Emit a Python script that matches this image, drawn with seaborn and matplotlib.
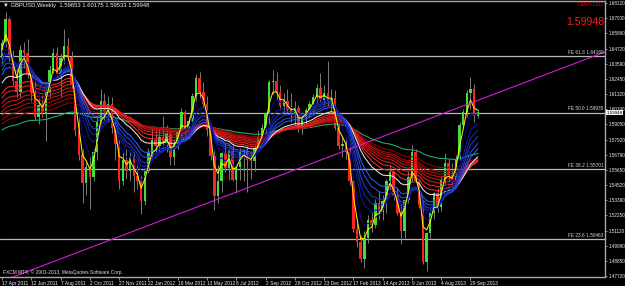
import numpy as np
import pandas as pd
import matplotlib
matplotlib.use("Agg")
import matplotlib.pyplot as plt
import seaborn as sns

# ---------------- data ----------------
symbol = "GBPUSD"
timeframe = "Weekly"
header_values = ["1.59653", "1.60175", "1.59533", "1.59948"]
last_price = "1.59948"

date_labels = ["17 Apr 2011", "12 Jun 2011", "7 Aug 2011", "2 Oct 2011", "27 Nov 2011",
               "22 Jan 2012", "18 Mar 2012", "13 May 2012", "8 Jul 2012", "2 Sep 2012",
               "28 Oct 2012", "23 Dec 2012", "17 Feb 2013", "14 Apr 2013", "9 Jun 2013",
               "4 Aug 2013", "29 Sep 2013"]
date_label_weeks = [0, 8, 16, 24, 32, 40, 48, 56, 64, 72, 80, 88, 96, 104, 112, 120, 128]

opens = [1.6400, 1.6510, 1.6690, 1.6420, 1.6230, 1.6150, 1.6460, 1.6440, 1.6290, 1.6140,
         1.5960, 1.6050, 1.5990, 1.6150, 1.6310, 1.6440, 1.6280, 1.6400, 1.6490, 1.6410,
         1.6200, 1.5860, 1.5680, 1.5470, 1.5590, 1.5510, 1.5700, 1.5930, 1.6080, 1.6000,
         1.6060, 1.5880, 1.5760, 1.5480, 1.5640, 1.5560, 1.5660, 1.5520, 1.5480, 1.5330,
         1.5560, 1.5690, 1.5790, 1.5740, 1.5810, 1.5770, 1.5830, 1.5660, 1.5760, 1.5850,
         1.6000, 1.5870, 1.5930, 1.6120, 1.6250, 1.6150, 1.6060, 1.5860, 1.5670, 1.5370,
         1.5480, 1.5690, 1.5580, 1.5710, 1.5490, 1.5590, 1.5700, 1.5710, 1.5640, 1.5630,
         1.5730, 1.5810, 1.5880, 1.5990, 1.6220, 1.6230, 1.6150, 1.6040, 1.6080, 1.6010,
         1.5980, 1.6030, 1.5880, 1.5960, 1.6010, 1.6060, 1.6110, 1.6180, 1.6090, 1.6140,
         1.6080, 1.6100, 1.5880, 1.5740, 1.5760, 1.5700, 1.5480, 1.5120, 1.5030, 1.4900,
         1.5060, 1.5190, 1.5150, 1.5320, 1.5250, 1.5330, 1.5480, 1.5550, 1.5370, 1.5240,
         1.5110, 1.5340, 1.5510, 1.5700, 1.5480, 1.5300, 1.4880, 1.5090, 1.5240, 1.5390,
         1.5290, 1.5490, 1.5620, 1.5530, 1.5490, 1.5650, 1.5900, 1.6000, 1.6140, 1.6170,
         1.59653]
highs = [1.6545, 1.6747, 1.6710, 1.6460, 1.6340, 1.6500, 1.6520, 1.6546, 1.6320, 1.6230,
         1.6100, 1.6125, 1.6180, 1.6350, 1.6475, 1.6480, 1.6440, 1.6618, 1.6550, 1.6450,
         1.6245, 1.5960, 1.5720, 1.5640, 1.5660, 1.5720, 1.5960, 1.6166, 1.6140, 1.6120,
         1.6110, 1.5920, 1.5790, 1.5700, 1.5720, 1.5700, 1.5700, 1.5600, 1.5520, 1.5580,
         1.5730, 1.5880, 1.5860, 1.5880, 1.5970, 1.5900, 1.5880, 1.5790, 1.5880, 1.6030,
         1.6010, 1.5960, 1.6140, 1.6280, 1.6300, 1.6220, 1.6120, 1.5900, 1.5720, 1.5600,
         1.5700, 1.5760, 1.5720, 1.5750, 1.5610, 1.5730, 1.5720, 1.5740, 1.5700, 1.5750,
         1.5860, 1.5910, 1.6000, 1.6240, 1.6310, 1.6300, 1.6200, 1.6140, 1.6170, 1.6140,
         1.6080, 1.6050, 1.5990, 1.6030, 1.6080, 1.6130, 1.6210, 1.6290, 1.6200, 1.6380,
         1.6170, 1.6160, 1.5920, 1.5820, 1.5800, 1.5740, 1.5520, 1.5170, 1.5080, 1.5110,
         1.5230, 1.5250, 1.5350, 1.5410, 1.5380, 1.5500, 1.5600, 1.5560, 1.5440, 1.5310,
         1.5260, 1.5560, 1.5750, 1.5720, 1.5490, 1.5330, 1.5100, 1.5250, 1.5400, 1.5430,
         1.5520, 1.5690, 1.5650, 1.5620, 1.5680, 1.5920, 1.6020, 1.6160, 1.6259, 1.6210,
         1.60175]
lows = [1.6360, 1.6480, 1.6380, 1.6200, 1.6110, 1.6110, 1.6330, 1.6250, 1.6080, 1.5937,
        1.5910, 1.5960, 1.5780, 1.6110, 1.6290, 1.6240, 1.6110, 1.6360, 1.6380, 1.6180,
        1.5820, 1.5640, 1.5320, 1.5380, 1.5271, 1.5480, 1.5640, 1.5910, 1.5940, 1.5920,
        1.5840, 1.5640, 1.5420, 1.5450, 1.5500, 1.5480, 1.5400, 1.5420, 1.5233, 1.5300,
        1.5540, 1.5660, 1.5700, 1.5710, 1.5750, 1.5700, 1.5600, 1.5600, 1.5720, 1.5800,
        1.5800, 1.5800, 1.5900, 1.6080, 1.6100, 1.6030, 1.5820, 1.5640, 1.5268, 1.5320,
        1.5400, 1.5550, 1.5490, 1.5480, 1.5390, 1.5490, 1.5480, 1.5400, 1.5500, 1.5560,
        1.5710, 1.5780, 1.5810, 1.5910, 1.6130, 1.6090, 1.6030, 1.5980, 1.5990, 1.5920,
        1.5900, 1.5850, 1.5830, 1.5900, 1.5960, 1.6000, 1.6060, 1.6070, 1.6050, 1.6040,
        1.5990, 1.5860, 1.5720, 1.5660, 1.5650, 1.5450, 1.5100, 1.4990, 1.4880, 1.4832,
        1.5020, 1.5100, 1.5130, 1.5200, 1.5190, 1.5240, 1.5420, 1.5340, 1.5230, 1.5010,
        1.5060, 1.5320, 1.5480, 1.5470, 1.5280, 1.4860, 1.4812, 1.5050, 1.5200, 1.5250,
        1.5260, 1.5450, 1.5470, 1.5430, 1.5470, 1.5640, 1.5880, 1.5960, 1.6020, 1.5920,
        1.59533]
closes = [1.6510, 1.6690, 1.6420, 1.6230, 1.6150, 1.6460, 1.6440, 1.6290, 1.6140, 1.5960,
          1.6050, 1.5990, 1.6150, 1.6310, 1.6440, 1.6280, 1.6400, 1.6490, 1.6410, 1.6200,
          1.5860, 1.5680, 1.5470, 1.5590, 1.5510, 1.5700, 1.5930, 1.6080, 1.6000, 1.6060,
          1.5880, 1.5760, 1.5480, 1.5640, 1.5560, 1.5660, 1.5520, 1.5480, 1.5330, 1.5560,
          1.5690, 1.5790, 1.5740, 1.5810, 1.5770, 1.5830, 1.5660, 1.5760, 1.5850, 1.6000,
          1.5870, 1.5930, 1.6120, 1.6250, 1.6150, 1.6060, 1.5860, 1.5670, 1.5370, 1.5480,
          1.5690, 1.5580, 1.5710, 1.5490, 1.5590, 1.5700, 1.5710, 1.5640, 1.5630, 1.5730,
          1.5810, 1.5880, 1.5990, 1.6220, 1.6230, 1.6150, 1.6040, 1.6080, 1.6010, 1.5980,
          1.6030, 1.5880, 1.5960, 1.6010, 1.6060, 1.6110, 1.6180, 1.6090, 1.6140, 1.6080,
          1.6100, 1.5880, 1.5740, 1.5760, 1.5700, 1.5480, 1.5120, 1.5030, 1.4900, 1.5060,
          1.5190, 1.5150, 1.5320, 1.5250, 1.5330, 1.5480, 1.5550, 1.5370, 1.5240, 1.5110,
          1.5340, 1.5510, 1.5700, 1.5480, 1.5300, 1.4880, 1.5090, 1.5240, 1.5390, 1.5290,
          1.5490, 1.5620, 1.5530, 1.5490, 1.5650, 1.5900, 1.6000, 1.6140, 1.6170, 1.5965,
          1.59948]

# moving-average ribbon: periods and their values just before the first visible bar
fast_period, fast_seed = 3, 1.6420
blue_periods = [5, 8, 10, 12, 15, 18]
blue_seeds = [1.6400, 1.6370, 1.6340, 1.6310, 1.6280, 1.6250]
white_period, white_seed = 25, 1.6190
red_periods = [30, 35, 40, 45, 50, 55, 60, 70]
red_seeds = [1.6110, 1.6080, 1.6040, 1.6010, 1.5980, 1.5950, 1.5920, 1.5890]
teal_period, teal_seed = 100, 1.5850

fib_names = ["FE 61.8", "FE 50.0", "FE 38.2", "FE 23.6"]
fib_levels = [1.64169, 1.59935, 1.55701, 1.50463]

trend_weeks = [2.2, 164.75]
trend_prices = [1.4757, 1.6446]

y_ticks = [1.68120, 1.67000, 1.65860, 1.64720, 1.63590, 1.62450, 1.61320, 1.60190,
           1.59050, 1.57920, 1.56790, 1.55650, 1.54520, 1.53390, 1.52250, 1.51120,
           1.49990, 1.48850, 1.47720]

# ---------------- drawing ----------------
sns.set_theme(style="dark", rc={"axes.facecolor": "black", "figure.facecolor": "black",
                                "axes.grid": False})
plt.rcParams["font.family"] = ["Liberation Sans", "DejaVu Sans"]

W, H = 625, 286
fig = plt.figure(figsize=(W / 100, H / 100), dpi=100, facecolor="black")
ax = fig.add_axes([0, 9 / H, 605 / W, 276 / H])
ax.set_facecolor("black")
ax.set_xlim(-0.55, 164.75)
ax.set_ylim(1.4765, 1.6827)

weeks = np.arange(len(closes))
o = np.array(opens); c = np.array(closes)
hi = np.array(highs); lo = np.array(lows)

# fib lines
for name, lvl in zip(fib_names, fib_levels):
    ax.axhline(lvl, color="#b8b8b8", lw=0.9, zorder=1)
    ax.text(0.997, lvl + 0.0008, f"{name} {lvl:.5f}", transform=ax.get_yaxis_transform(),
            ha="right", va="bottom", fontsize=3.4, color="#dddddd", zorder=6)

# candles
ax.vlines(weeks, lo, hi, colors="#7a7a7a", lw=0.7, zorder=2)
body_bottom = np.minimum(o, c)
body_h = np.maximum(np.abs(c - o), 0.0005)
colors = np.where(c >= o, "#3ee03e", "#ff2222")
ax.bar(weeks, body_h, bottom=body_bottom, width=0.68, color=colors, linewidth=0, zorder=3)

# EMA ribbon
def ema(values, period, seed):
    a = 2.0 / (period + 1)
    prev = seed
    out = []
    for v in values:
        prev = a * v + (1 - a) * prev
        out.append(prev)
    return out

lines = []
palette = {}
def add_line(name, period, seed, color):
    lines.append(pd.DataFrame({"week": weeks, "value": ema(closes, period, seed), "line": name}))
    palette[name] = color

red_cols = sns.blend_palette(["#ff2a2a", "#9a0000"], len(red_periods), as_cmap=False)
blue_cols = sns.blend_palette(["#08088a", "#2f5cff"], len(blue_periods), as_cmap=False)
add_line(f"EMA{teal_period}", teal_period, teal_seed, "#1fb57a")
for p, s, col in zip(red_periods[::-1], red_seeds[::-1], red_cols[::-1]):
    add_line(f"EMA{p}", p, s, col)
add_line(f"EMA{white_period}", white_period, white_seed, "#e8e8e8")
for p, s, col in zip(blue_periods[::-1], blue_seeds[::-1], blue_cols[::-1]):
    add_line(f"EMA{p}", p, s, col)
add_line(f"EMA{fast_period}", fast_period, fast_seed, "#ffee00")
df = pd.concat(lines, ignore_index=True)
sns.lineplot(data=df, x="week", y="value", hue="line", palette=palette, legend=False,
             estimator=None, sort=False, linewidth=0.75, ax=ax, zorder=4)

# trend line
ax.plot(trend_weeks, trend_prices, color="#d21ed2", lw=0.8, zorder=5)

# axes styling
for side in ["top", "bottom", "right"]:
    ax.spines[side].set_color("#a8a8a8")
    ax.spines[side].set_linewidth(1.0)
ax.spines["left"].set_visible(False)
ax.yaxis.tick_right()
ax.set_yticks(y_ticks)
ax.set_yticklabels([f"{v:.5f}" for v in y_ticks])
ax.tick_params(axis="y", which="both", right=True, left=False, labelright=True, labelleft=False,
               length=1.5, width=0.5, color="#c8c8c8", labelsize=3.3, labelcolor="#f0f0f0", pad=1.0)
ax.set_xticks(date_label_weeks)
ax.set_xticklabels(date_labels, ha="left")
ax.tick_params(axis="x", bottom=True, length=2, width=0.5, color="#c8c8c8", labelsize=3.5,
               labelcolor="#f0f0f0", pad=0.6)
ax.set_xlabel(""); ax.set_ylabel("")

# price box on the axis
ax.text(1.002, float(last_price) - 0.0003, last_price, transform=ax.get_yaxis_transform(),
        ha="left", va="center", fontsize=3.2, color="black", zorder=7, clip_on=False,
        bbox=dict(boxstyle="square,pad=0.1", facecolor="#f0f0f0", edgecolor="none"))

# header & decorations
fig.text(3 / W, 1 - 5.5 / H, f"\u25bc {symbol},{timeframe}  " + " ".join(header_values),
         ha="left", va="center", fontsize=4.2, color="#f0f0f0")
fig.text(604 / W, 1 - 5 / H, symbol, ha="right", va="center", fontsize=4.4, color="#d00000")
fig.text(604 / W, 1 - 22 / H, last_price, ha="right", va="center", fontsize=7.6, color="#ff1a1a")
fig.text(3 / W, 1 - 272 / H, "FXCM MT4, \u00a9 2001-2013, MetaQuotes Software Corp.",
         ha="left", va="center", fontsize=3.5, color="#e0e0e0")

fig.savefig("out.png", dpi=100, facecolor="black")
